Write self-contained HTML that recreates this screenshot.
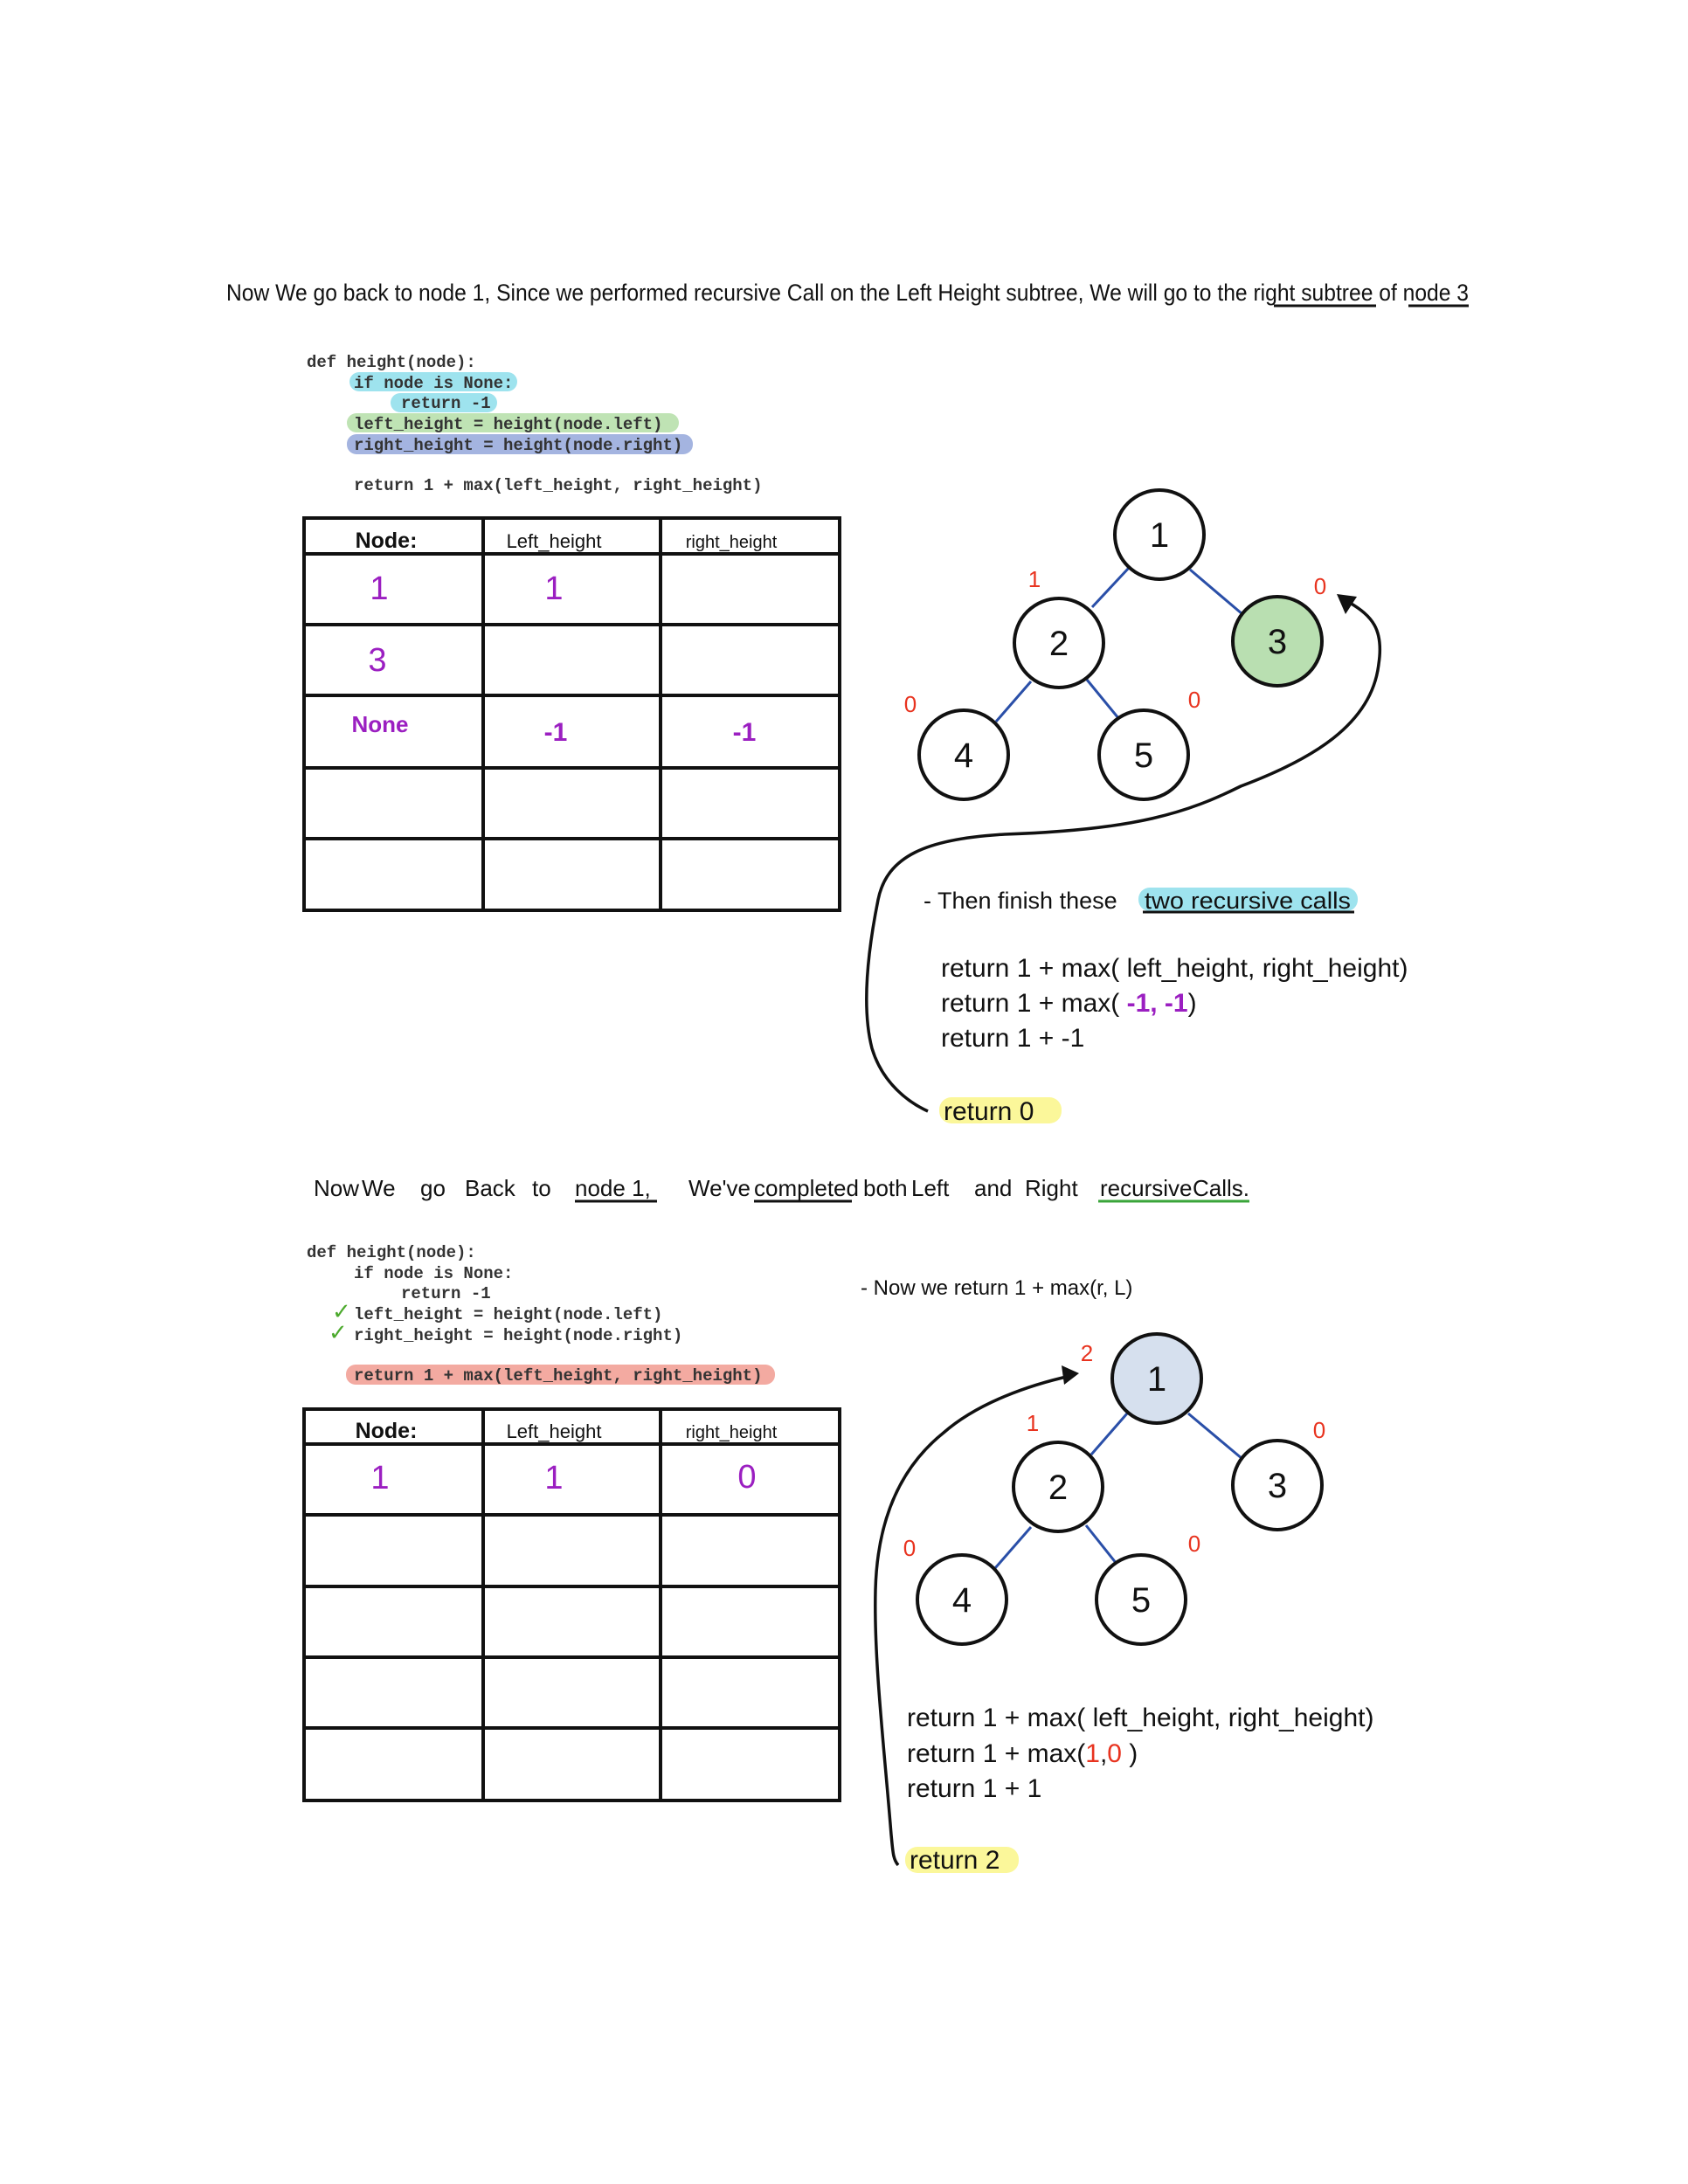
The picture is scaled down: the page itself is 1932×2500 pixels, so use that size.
<!DOCTYPE html>
<html><head><meta charset="utf-8"><style>
html,body{margin:0;padding:0;background:#fff}
svg{display:block}
.h{font-family:"Liberation Sans",sans-serif;fill:#111}
.c{font-family:"Liberation Mono",monospace;font-size:19px;fill:#333;font-weight:bold}
.p{fill:#9b1fc1;font-family:"Liberation Sans",sans-serif}
.r{fill:#e8331f;font-family:"Liberation Sans",sans-serif;font-size:26px}
</style></head><body>
<svg width="1932" height="2500" viewBox="0 0 1932 2500" xmlns="http://www.w3.org/2000/svg">
<!-- Title 1 -->
<text class="h" x="259" y="344" font-size="27" textLength="1422" lengthAdjust="spacingAndGlyphs">Now We go back to node 1, Since we performed recursive Call on the Left Height subtree, We will go to the right subtree of node 3</text>
<line x1="1458" y1="350" x2="1575" y2="350" stroke="#111" stroke-width="3"/>
<line x1="1612" y1="350" x2="1681" y2="350" stroke="#111" stroke-width="3"/>

<!-- Code 1 -->
<rect x="400" y="426" width="192" height="22" rx="11" fill="#9ee3ee"/>
<rect x="447" y="450" width="122" height="22" rx="11" fill="#9ee3ee"/>
<rect x="397" y="473" width="380" height="22" rx="11" fill="#bfe3b4"/>
<rect x="397" y="497" width="396" height="23" rx="11" fill="#a4b4e0"/>
<text class="c" x="351" y="420">def height(node):</text>
<text class="c" x="405" y="444">if node is None:</text>
<text class="c" x="459" y="467">return -1</text>
<text class="c" x="405" y="491">left_height = height(node.left)</text>
<text class="c" x="405" y="515">right_height = height(node.right)</text>
<text class="c" x="405" y="561">return 1 + max(left_height, right_height)</text>

<!-- Table 1 -->
<g stroke="#111" stroke-width="4" fill="none">
<rect x="348" y="593" width="613" height="449"/>
<line x1="553" y1="593" x2="553" y2="1042"/><line x1="756" y1="593" x2="756" y2="1042"/>
<line x1="348" y1="634" x2="961" y2="634"/><line x1="348" y1="715" x2="961" y2="715"/>
<line x1="348" y1="796" x2="961" y2="796"/><line x1="348" y1="879" x2="961" y2="879"/>
<line x1="348" y1="960" x2="961" y2="960"/>
</g>
<text class="h" x="442" y="627" font-size="25" font-weight="bold" text-anchor="middle">Node:</text>
<text class="h" x="634" y="627" font-size="22" text-anchor="middle">Left_height</text>
<text class="h" x="837" y="627" font-size="20" text-anchor="middle">right_height</text>
<text class="p" x="434" y="686" font-size="38" text-anchor="middle">1</text>
<text class="p" x="634" y="686" font-size="38" text-anchor="middle">1</text>
<text class="p" x="432" y="768" font-size="38" text-anchor="middle">3</text>
<text class="p" x="435" y="838" font-size="26" font-weight="bold" text-anchor="middle">None</text>
<text class="p" x="636" y="848" font-size="30" font-weight="bold" text-anchor="middle">-1</text>
<text class="p" x="852" y="848" font-size="30" font-weight="bold" text-anchor="middle">-1</text>

<!-- Tree 1 -->
<g stroke="#2a4fa8" stroke-width="3">
<line x1="1250" y1="695" x2="1292" y2="650"/><line x1="1362" y1="652" x2="1422" y2="703"/>
<line x1="1140" y1="826" x2="1180" y2="780"/><line x1="1244" y1="778" x2="1280" y2="822"/>
</g>
<g stroke="#111" stroke-width="4">
<circle cx="1327" cy="612" r="51" fill="#fff"/>
<circle cx="1212" cy="736" r="51" fill="#fff"/>
<circle cx="1462" cy="734" r="51" fill="#b9dfb1"/>
<circle cx="1103" cy="864" r="51" fill="#fff"/>
<circle cx="1309" cy="864" r="51" fill="#fff"/>
</g>
<g class="h" font-size="40" text-anchor="middle">
<text x="1327" y="626">1</text><text x="1212" y="750">2</text><text x="1462" y="748">3</text><text x="1103" y="878">4</text><text x="1309" y="878">5</text>
</g>
<text class="r" x="1184" y="672" text-anchor="middle">1</text>
<text class="r" x="1511" y="680" text-anchor="middle">0</text>
<text class="r" x="1042" y="815" text-anchor="middle">0</text>
<text class="r" x="1367" y="810" text-anchor="middle">0</text>

<path d="M1062 1272 C1040 1262 1010 1240 998 1200 C985 1150 995 1080 1005 1030 C1015 980 1060 960 1150 955 C1300 950 1360 930 1420 900 C1500 870 1570 830 1578 760 C1584 720 1570 705 1545 690" fill="none" stroke="#111" stroke-width="3.5"/>
<polygon points="1530,680 1553,683 1540,703" fill="#111"/>

<rect x="1303" y="1016" width="251" height="27" rx="13" fill="#9ee3ee"/>
<text class="h" x="1057" y="1040" font-size="27">- Then  finish  these</text>
<text class="h" x="1310" y="1040" font-size="27" textLength="236" lengthAdjust="spacingAndGlyphs">two recursive calls</text>
<line x1="1308" y1="1044" x2="1550" y2="1044" stroke="#111" stroke-width="3"/>
<text class="h" x="1077" y="1118" font-size="30">return  1  +  max( left_height, right_height)</text>
<text class="h" x="1077" y="1158" font-size="30">return  1  +  max( <tspan class="p" font-weight="bold">-1, -1</tspan>)</text>
<text class="h" x="1077" y="1198" font-size="30">return  1  +  -1</text>
<rect x="1075" y="1256" width="140" height="30" rx="14" fill="#fbf79a"/>
<text class="h" x="1080" y="1282" font-size="30">return  0</text>

<!-- Title 2 -->
<text class="h" y="1369" font-size="26"><tspan x="359">Now</tspan><tspan x="414">We</tspan><tspan x="481">go</tspan><tspan x="532">Back</tspan><tspan x="609">to</tspan><tspan x="658">node 1,</tspan><tspan x="788">We've</tspan><tspan x="863">completed</tspan><tspan x="988">both</tspan><tspan x="1043">Left</tspan><tspan x="1115">and</tspan><tspan x="1173">Right</tspan><tspan x="1259">recursive</tspan><tspan x="1365">Calls.</tspan></text>
<line x1="658" y1="1375" x2="752" y2="1375" stroke="#111" stroke-width="3"/>
<line x1="863" y1="1375" x2="975" y2="1375" stroke="#111" stroke-width="3"/>
<line x1="1257" y1="1375" x2="1430" y2="1375" stroke="#3aa53a" stroke-width="3"/>

<!-- Code 2 -->
<text class="c" x="351" y="1439">def height(node):</text>
<text class="c" x="405" y="1463">if node is None:</text>
<text class="c" x="459" y="1486">return -1</text>
<text class="c" x="405" y="1510">left_height = height(node.left)</text>
<text class="c" x="405" y="1534">right_height = height(node.right)</text>
<text x="380" y="1510" font-size="26" fill="#4caa2d" font-family="DejaVu Sans">✓</text>
<text x="376" y="1534" font-size="26" fill="#4caa2d" font-family="DejaVu Sans">✓</text>
<rect x="396" y="1562" width="491" height="23" rx="11" fill="#f3aaa1"/>
<text class="c" x="405" y="1580">return 1 + max(left_height, right_height)</text>
<text class="h" x="985" y="1482" font-size="24">- Now we return 1 + max(r, L)</text>

<!-- Table 2 -->
<g stroke="#111" stroke-width="4" fill="none">
<rect x="348" y="1613" width="613" height="448"/>
<line x1="553" y1="1613" x2="553" y2="2061"/><line x1="756" y1="1613" x2="756" y2="2061"/>
<line x1="348" y1="1653" x2="961" y2="1653"/><line x1="348" y1="1734" x2="961" y2="1734"/>
<line x1="348" y1="1816" x2="961" y2="1816"/><line x1="348" y1="1897" x2="961" y2="1897"/>
<line x1="348" y1="1978" x2="961" y2="1978"/>
</g>
<text class="h" x="442" y="1646" font-size="25" font-weight="bold" text-anchor="middle">Node:</text>
<text class="h" x="634" y="1646" font-size="22" text-anchor="middle">Left_height</text>
<text class="h" x="837" y="1646" font-size="20" text-anchor="middle">right_height</text>
<text class="p" x="435" y="1704" font-size="38" text-anchor="middle">1</text>
<text class="p" x="634" y="1704" font-size="38" text-anchor="middle">1</text>
<text class="p" x="855" y="1703" font-size="38" text-anchor="middle">0</text>

<!-- Tree 2 -->
<g stroke="#2a4fa8" stroke-width="3">
<line x1="1249" y1="1665" x2="1290" y2="1618"/><line x1="1360" y1="1618" x2="1422" y2="1670"/>
<line x1="1139" y1="1795" x2="1180" y2="1748"/><line x1="1243" y1="1746" x2="1278" y2="1790"/>
</g>
<g stroke="#111" stroke-width="4">
<circle cx="1324" cy="1578" r="51" fill="#d6e0ee"/>
<circle cx="1211" cy="1702" r="51" fill="#fff"/>
<circle cx="1462" cy="1700" r="51" fill="#fff"/>
<circle cx="1101" cy="1831" r="51" fill="#fff"/>
<circle cx="1306" cy="1831" r="51" fill="#fff"/>
</g>
<g class="h" font-size="40" text-anchor="middle">
<text x="1324" y="1592">1</text><text x="1211" y="1716">2</text><text x="1462" y="1714">3</text><text x="1101" y="1845">4</text><text x="1306" y="1845">5</text>
</g>
<text class="r" x="1244" y="1558" text-anchor="middle">2</text>
<text class="r" x="1182" y="1638" text-anchor="middle">1</text>
<text class="r" x="1510" y="1646" text-anchor="middle">0</text>
<text class="r" x="1041" y="1781" text-anchor="middle">0</text>
<text class="r" x="1367" y="1776" text-anchor="middle">0</text>

<path d="M1028 2135 C1022 2128 1022 2120 1020 2100 C1012 2000 1000 1900 1002 1820 C1004 1740 1030 1680 1080 1640 C1120 1605 1180 1585 1225 1575" fill="none" stroke="#111" stroke-width="3.5"/>
<polygon points="1235,1572 1215,1563 1218,1585" fill="#111"/>

<text class="h" x="1038" y="1976" font-size="30">return  1  +  max( left_height, right_height)</text>
<text class="h" x="1038" y="2017" font-size="30">return  1  +  max(<tspan fill="#e8331f">1</tspan>,<tspan fill="#e8331f">0</tspan> )</text>
<text class="h" x="1038" y="2057" font-size="30">return  1  +   1</text>
<rect x="1036" y="2114" width="130" height="30" rx="14" fill="#fbf79a"/>
<text class="h" x="1041" y="2139" font-size="30">return  2</text>
</svg>
</body></html>
